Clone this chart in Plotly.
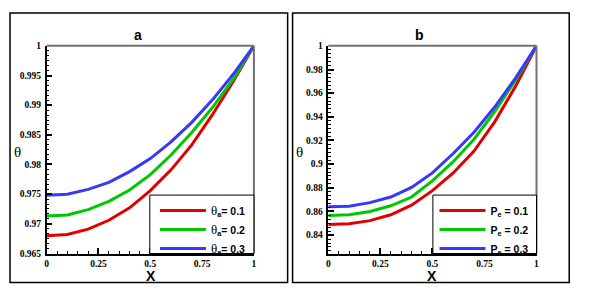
import plotly.graph_objects as go

# ---------------- data ----------------
x_vals = [0, 0.1, 0.2, 0.3, 0.4, 0.5, 0.6, 0.7, 0.8, 0.9, 1.0]

# panel a : theta_a = 0.1, 0.2, 0.3
a_theta01 = [0.9680, 0.9682, 0.9691, 0.9706, 0.9727, 0.9756, 0.9791, 0.9833, 0.9884, 0.9940, 1.0]
a_theta02 = [0.9713, 0.9715, 0.9724, 0.9738, 0.9757, 0.9783, 0.9816, 0.9854, 0.9896, 0.9944, 1.0]
a_theta03 = [0.9748, 0.9750, 0.9758, 0.9770, 0.9788, 0.9810, 0.9838, 0.9871, 0.9909, 0.9952, 1.0]

# panel b : Pe = 0.1, 0.2, 0.3
b_pe01 = [0.8490, 0.8496, 0.8523, 0.8572, 0.8653, 0.8776, 0.8926, 0.9111, 0.9360, 0.9660, 1.0]
b_pe02 = [0.8567, 0.8572, 0.8600, 0.8648, 0.8722, 0.8858, 0.9021, 0.9211, 0.9446, 0.9711, 1.0]
b_pe03 = [0.8640, 0.8645, 0.8675, 0.8722, 0.8804, 0.8926, 0.9090, 0.9270, 0.9485, 0.9730, 1.0]

TH = "<span style='font-family:Liberation Serif;font-size:13px;font-weight:normal'>θ</span>"
a_names = [TH + "<sub>a</sub>= 0.1", TH + "<sub>a</sub>= 0.2", TH + "<sub>a</sub>= 0.3"]
b_names = ["P<sub>e</sub> = 0.1", "P<sub>e</sub> = 0.2", "P<sub>e</sub> = 0.3"]

x_tickvals = [0, 0.25, 0.5, 0.75, 1]
x_ticktext = ["0", "0.25", "0.5", "0.75", "1"]
a_tickvals = [0.965, 0.97, 0.975, 0.98, 0.985, 0.99, 0.995, 1.0]
a_ticktext = ["0.965", "0.97", "0.975", "0.98", "0.985", "0.99", "0.995", "1"]
b_tickvals = [0.84, 0.86, 0.88, 0.9, 0.92, 0.94, 0.96, 0.98, 1.0]
b_ticktext = ["0.84", "0.86", "0.88", "0.9", "0.92", "0.94", "0.96", "0.98", "1"]

colors = ["#e00000", "#00c800", "#3737ff"]

W, H = 590, 293
OFF = 8  # page body margin
def px_x(p):
    return (p - OFF) / W
def px_y(p):
    return 1 - (p - OFF) / H

fig = go.Figure()

for ys, nm, c in zip([a_theta01, a_theta02, a_theta03], a_names, colors):
    fig.add_trace(go.Scatter(x=x_vals, y=ys, mode="lines", name=nm,
                             line=dict(color=c, width=3), xaxis="x", yaxis="y",
                             legend="legend"))
for ys, nm, c in zip([b_pe01, b_pe02, b_pe03], b_names, colors):
    fig.add_trace(go.Scatter(x=x_vals, y=ys, mode="lines", name=nm,
                             line=dict(color=c, width=3), xaxis="x2", yaxis="y2",
                             legend="legend2"))

tickfont = dict(family="Liberation Serif", size=9.5, color="black", weight="bold")

def xaxis_cfg(domain, anchor):
    return dict(domain=domain, anchor=anchor, range=[0, 1],
                tickmode="array", tickvals=x_tickvals, ticktext=x_ticktext,
                ticks="inside", ticklen=6, tickwidth=1.5, tickcolor="black",
                minor=dict(dtick=0.05, tick0=0, ticks="inside", ticklen=3, tickwidth=1, tickcolor="black"),
                showline=True, linecolor="black", linewidth=1.5,
                showgrid=False, zeroline=False, tickfont=tickfont, ticklabelstandoff=0)

def yaxis_cfg(domain, anchor, rng, tv, tt, mdt):
    return dict(domain=domain, anchor=anchor, range=rng,
                tickmode="array", tickvals=tv, ticktext=tt,
                ticks="inside", ticklen=6, tickwidth=1.5, tickcolor="black",
                minor=dict(dtick=mdt, tick0=tv[0], ticks="inside", ticklen=3, tickwidth=1, tickcolor="black"),
                showline=True, linecolor="black", linewidth=1.5,
                showgrid=False, zeroline=False, tickfont=tickfont, ticklabelstandoff=2)

ydom = [px_y(257), px_y(42)]
legfont = dict(family="Arial", size=10.5, color="black", weight="bold")
fig.update_layout(
    width=W, height=H, margin=dict(l=0, r=0, t=0, b=0),
    paper_bgcolor="white", plot_bgcolor="white",
    xaxis=xaxis_cfg([px_x(45), px_x(254)], "y"),
    yaxis=yaxis_cfg(ydom, "x", [0.965, 1.0], a_tickvals, a_ticktext, 0.005 / 6),
    xaxis2=xaxis_cfg([px_x(329), px_x(539)], "y2"),
    yaxis2=yaxis_cfg(ydom, "x2", [0.8245, 1.0], b_tickvals, b_ticktext, 0.02 / 6),
    legend=dict(x=px_x(251), xanchor="right", y=px_y(197.5), yanchor="top",
                bgcolor="rgba(0,0,0,0)", borderwidth=0, itemwidth=46,
                font=legfont, tracegroupgap=0),
    legend2=dict(x=px_x(536), xanchor="right", y=px_y(197.5), yanchor="top",
                 bgcolor="rgba(0,0,0,0)", borderwidth=0, itemwidth=46,
                 font=legfont, tracegroupgap=0),
    showlegend=True,
)

shapes = []
# outer panel boxes
for x0, x1 in [(8, 288), (293, 572)]:
    shapes.append(dict(type="rect", xref="paper", yref="paper",
                       x0=px_x(x0), x1=px_x(x1), y0=px_y(287), y1=px_y(8),
                       line=dict(color="black", width=1.5), fillcolor="rgba(0,0,0,0)", layer="below"))
# gray top/right frame of the plot areas
for xr, yr in [("x domain", "y domain"), ("x2 domain", "y2 domain")]:
    shapes.append(dict(type="line", xref=xr, yref=yr, x0=0, x1=1, y0=1, y1=1,
                       line=dict(color="#707070", width=2)))
    shapes.append(dict(type="line", xref=xr, yref=yr, x0=1, x1=1, y0=0, y1=1,
                       line=dict(color="#707070", width=2)))
# legend frames
for x0, x1 in [(149, 254), (434.5, 539)]:
    shapes.append(dict(type="rect", xref="paper", yref="paper",
                       x0=px_x(x0), x1=px_x(x1), y0=px_y(257), y1=px_y(196.5),
                       line=dict(color="black", width=1), fillcolor="white", layer="above"))
fig.update_layout(shapes=shapes)

ann = []
def add_text(t, xp, yp, font):
    ann.append(dict(text=t, x=px_x(xp), y=px_y(yp), xref="paper", yref="paper",
                    xanchor="center", yanchor="middle", showarrow=False, font=font))

add_text("<b>a</b>", 137, 31, dict(family="Arial", size=14, color="black"))
add_text("<b>b</b>", 421, 31, dict(family="Arial", size=14, color="black"))
for xc in [150, 434]:
    add_text("<b>X</b>", xc, 280, dict(family="Arial", size=14, color="black"))
for xc in [16, 300]:
    add_text("θ", xc, 152, dict(family="Liberation Serif", size=15, color="black"))
fig.update_layout(annotations=ann)

fig.write_html("out.html")
